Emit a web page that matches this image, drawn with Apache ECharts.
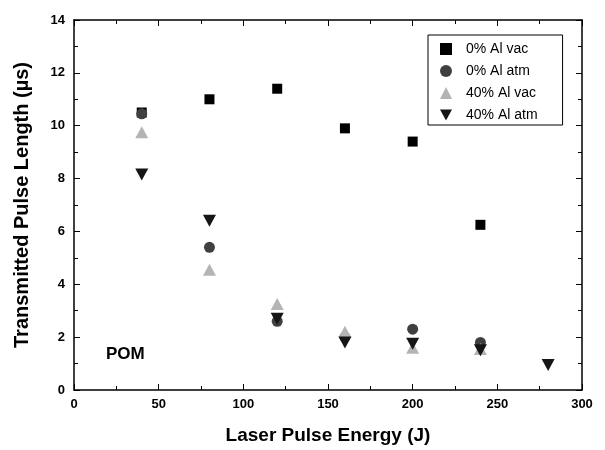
<!DOCTYPE html>
<html>
<head>
<meta charset="utf-8">
<script src="https://cdn.jsdelivr.net/npm/echarts@6/dist/echarts.min.js"></script>
<style>
  html, body { margin: 0; padding: 0; background: #fff; }
  #chart { width: 605px; height: 450px; }
</style>
</head>
<body>
<div id="chart"></div>
<script>
  // energies (J) and pulse lengths (us)
  var vac0X = [40, 80, 120, 160, 200, 240];
  var vac0Y = [10.5, 11.0, 11.4, 9.9, 9.4, 6.25];
  var atm0X = [40, 80, 120, 160, 200, 240];
  var atm0Y = [10.45, 5.4, 2.6, 2.0, 2.3, 1.8];
  var vac40X = [40, 80, 120, 160, 200, 240];
  var vac40Y = [9.75, 4.55, 3.25, 2.2, 1.6, 1.55];
  var atm40X = [40, 80, 120, 160, 200, 240, 280];
  var atm40Y = [8.15, 6.4, 2.7, 1.8, 1.75, 1.5, 0.95];

  var seriesNames = ['0% Al vac', '0% Al atm', '40% Al vac', '40% Al atm'];

  function pairs(xs, ys) {
    var out = [];
    for (var i = 0; i < xs.length; i++) out.push([xs[i], ys[i]]);
    return out;
  }

  var downTri = 'path://M0,0 L12,0 L6,11 Z';
  var lbl = { fontFamily: 'Arial, Liberation Sans', fontWeight: 'bold', fontSize: 13, color: '#000' };
  var ttl = { fontFamily: 'Arial, Liberation Sans', fontWeight: 'bold', fontSize: 19, color: '#000' };

  // same look for all four frame axes, ticks pointing into the plot
  function frame(extra) {
    return Object.assign({
      type: 'value',
      axisLine: { onZero: false, lineStyle: { color: '#000', width: 1.5 } },
      axisTick: { inside: true, length: 6, lineStyle: { color: '#000' } },
      minorTick: { show: true, splitNumber: 2, length: 4, lineStyle: { color: '#000' } },
      splitLine: { show: false }
    }, extra);
  }

  var chart = echarts.init(document.getElementById('chart'));
  chart.setOption({
    animation: false,
    backgroundColor: '#fff',
    grid: { left: 74, right: 23, top: 20, bottom: 57 },
    legend: {
      orient: 'vertical',
      left: 428, top: 35,
      padding: [7, 25, 3, 12],
      borderColor: '#000', borderWidth: 1,
      itemWidth: 12, itemHeight: 12, itemGap: 8,
      textStyle: { fontFamily: 'Arial, Liberation Sans', fontSize: 14, color: '#000', padding: [0, 0, 0, 9] },
      data: seriesNames
    },
    graphic: [{
      type: 'text', left: 106, top: 346,
      style: { text: 'POM', fontFamily: 'Arial, Liberation Sans', fontWeight: 'bold', fontSize: 17, fill: '#000' }
    }],
    xAxis: [frame({
      min: 0, max: 300, interval: 50, position: 'bottom',
      name: 'Laser Pulse Energy (J)', nameLocation: 'middle', nameGap: 36,
      nameTextStyle: ttl,
      axisLabel: Object.assign({ margin: 8 }, lbl)
    }), frame({
      min: 0, max: 300, interval: 50, position: 'top',
      axisLabel: { show: false }
    })],
    yAxis: [frame({
      min: 0, max: 14, interval: 2, position: 'left',
      name: 'Transmitted Pulse Length (µs)', nameLocation: 'middle', nameGap: 42,
      nameTextStyle: Object.assign({}, ttl, { fontSize: 20 }),
      axisLabel: Object.assign({ margin: 9 }, lbl)
    }), frame({
      min: 0, max: 14, interval: 2, position: 'right',
      axisLabel: { show: false }
    })],
    series: [{
      name: seriesNames[0], type: 'scatter', symbol: 'rect', symbolSize: 10,
      itemStyle: { color: '#000', opacity: 1 }, data: pairs(vac0X, vac0Y)
    }, {
      name: seriesNames[1], type: 'scatter', symbol: 'circle', symbolSize: 11,
      itemStyle: { color: '#404040', opacity: 1 }, data: pairs(atm0X, atm0Y)
    }, {
      name: seriesNames[2], type: 'scatter', symbol: 'triangle', symbolSize: [13, 12],
      itemStyle: { color: '#b4b4b4', opacity: 1 }, data: pairs(vac40X, vac40Y)
    }, {
      name: seriesNames[3], type: 'scatter', symbol: downTri, symbolSize: [13, 12],
      itemStyle: { color: '#151515', opacity: 1 }, data: pairs(atm40X, atm40Y)
    }]
  });
</script>
</body>
</html>
